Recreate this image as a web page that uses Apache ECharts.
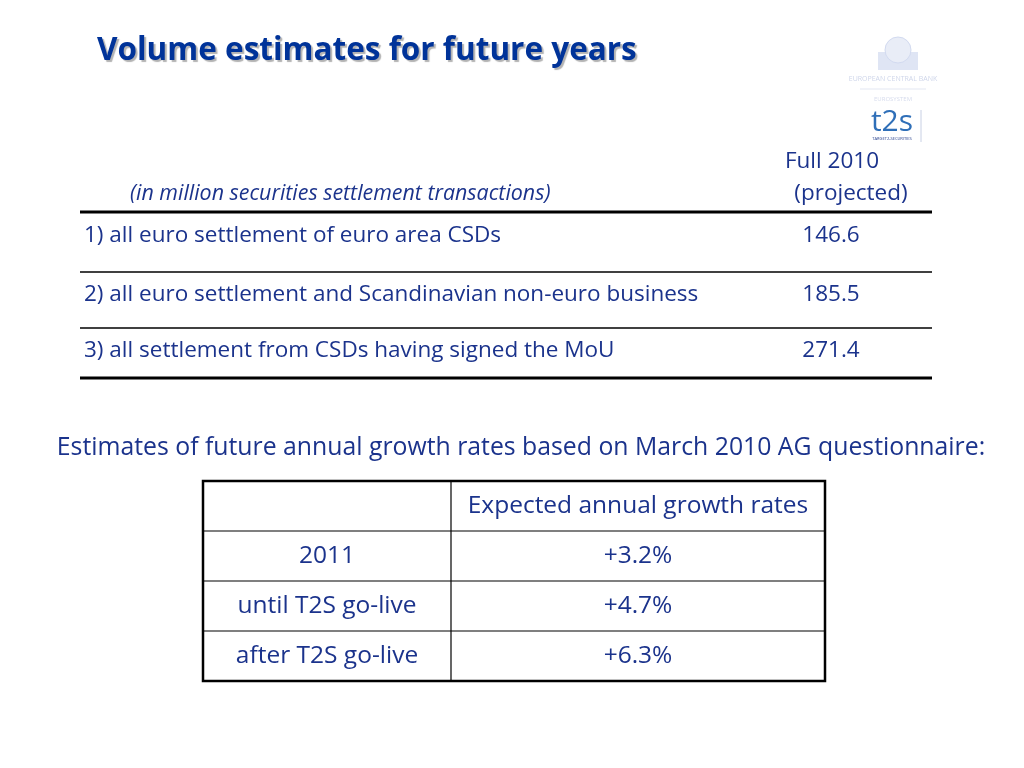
<!DOCTYPE html>
<html>
<head>
<meta charset="utf-8">
<script src="https://cdn.jsdelivr.net/npm/echarts@6/dist/echarts.min.js"></script>
<style>
  html, body { margin: 0; padding: 0; background: #fff; }
  #main { width: 1024px; height: 768px; }
</style>
</head>
<body>
<div id="main"></div>
<script>
// data
var titleText = 'Volume estimates for future years';
var unitNote = '(in million securities settlement transactions)';
var valueHeader = ['Full 2010', '(projected)'];
var volumeRows = [
    '1) all euro settlement of euro area CSDs',
    '2) all euro settlement and Scandinavian non-euro business',
    '3) all settlement from CSDs having signed the MoU'
];
var volumeValues = ['146.6', '185.5', '271.4'];

var growthNote = 'Estimates of future annual growth rates based on March 2010 AG questionnaire:';
var growthHeader = 'Expected annual growth rates';
var growthPeriods = ['2011', 'until T2S go-live', 'after T2S go-live'];
var growthRates = ['+3.2%', '+4.7%', '+6.3%'];

var blue = '#1b338c';
var font = '"Open Sans"';
var f1 = '22.5px ' + font;   // table 1 text
var f2 = '24.5px ' + font;   // growth table text
var chart = echarts.init(document.getElementById('main'));

var els = [];

// title
els.push({
    type: 'text', x: 97, y: 51,
    style: {
        text: titleText, fill: '#003399', font: 'bold 31.5px ' + font, verticalAlign: 'middle',
        textShadowColor: 'rgba(0,0,0,0.3)', textShadowOffsetX: 2, textShadowOffsetY: 2, textShadowBlur: 1
    }
});

// logo (ECB / t2s)
els.push({ type: 'rect', shape: { x: 878, y: 52, width: 40, height: 18 }, style: { fill: '#dfe5f4' } });
els.push({ type: 'circle', shape: { cx: 898, cy: 50, r: 13 }, style: { fill: '#e9edf7', stroke: '#d2daf0', lineWidth: 1 } });
els.push({ type: 'text', x: 893, y: 79, style: { text: 'EUROPEAN CENTRAL BANK', fill: '#cfd6ea', font: '7px ' + font, align: 'center', verticalAlign: 'middle' } });
els.push({ type: 'line', shape: { x1: 860, y1: 89, x2: 926, y2: 89 }, style: { stroke: '#e3e7f2', lineWidth: 1 } });
els.push({ type: 'text', x: 893, y: 99, style: { text: 'EUROSYSTEM', fill: '#d7dced', font: '6px ' + font, align: 'center', verticalAlign: 'middle' } });
els.push({ type: 'text', x: 892, y: 122, style: { text: 't2s', fill: '#2f6fb8', font: '30px ' + font, align: 'center', verticalAlign: 'middle' } });
els.push({ type: 'text', x: 892, y: 139, style: { text: 'TARGET2-SECURITIES', fill: '#1f3a8a', font: '4px ' + font, align: 'center', verticalAlign: 'middle' } });
els.push({ type: 'line', shape: { x1: 921, y1: 110, x2: 921, y2: 142 }, style: { stroke: '#c8d0e4', lineWidth: 1 } });

// table 1
var t1 = { left: 80, right: 932, valX: 831, textX: 84 };
els.push({ type: 'text', x: 832, y: 162, style: { text: valueHeader[0], fill: blue, font: f1, align: 'center', verticalAlign: 'middle' } });
els.push({ type: 'text', x: 851, y: 194, style: { text: valueHeader[1], fill: blue, font: f1, align: 'center', verticalAlign: 'middle' } });
els.push({ type: 'text', x: 130, y: 194, style: { text: unitNote, fill: blue, font: 'italic 21.4px ' + font, verticalAlign: 'middle' } });

var ruleYs = [212, 272, 328, 378];
ruleYs.forEach(function (y, i) {
    var thick = (i === 0 || i === ruleYs.length - 1);
    els.push({ type: 'line', shape: { x1: t1.left, y1: y, x2: t1.right, y2: y }, style: { stroke: '#000', lineWidth: thick ? 3 : 1.3 } });
});
var rowYs = [236, 295, 351];
volumeRows.forEach(function (label, i) {
    els.push({ type: 'text', x: t1.textX, y: rowYs[i], style: { text: label, fill: blue, font: f1, verticalAlign: 'middle' } });
    els.push({ type: 'text', x: t1.valX, y: rowYs[i], style: { text: volumeValues[i], fill: blue, font: f1, align: 'center', verticalAlign: 'middle' } });
});

// growth note
els.push({ type: 'text', x: 521, y: 448, style: { text: growthNote, fill: blue, font: '24.8px ' + font, align: 'center', verticalAlign: 'middle' } });

// table 2
var t2 = { x0: 203, x1: 451, x2: 825, y0: 481, rowH: 50 };
var nRows = growthPeriods.length + 1;
var yEnd = t2.y0 + t2.rowH * nRows;
for (var r = 1; r < nRows; r++) {
    var yy = t2.y0 + t2.rowH * r;
    els.push({ type: 'line', shape: { x1: t2.x0, y1: yy, x2: t2.x2, y2: yy }, style: { stroke: '#000', lineWidth: 1.2 } });
}
els.push({ type: 'line', shape: { x1: t2.x1, y1: t2.y0, x2: t2.x1, y2: yEnd }, style: { stroke: '#000', lineWidth: 1.2 } });
els.push({ type: 'rect', shape: { x: t2.x0, y: t2.y0, width: t2.x2 - t2.x0, height: yEnd - t2.y0 }, style: { fill: 'none', stroke: '#000', lineWidth: 2.5 } });

var c1 = (t2.x0 + t2.x1) / 2, c2 = (t2.x1 + t2.x2) / 2;
els.push({ type: 'text', x: c2, y: t2.y0 + t2.rowH / 2, style: { text: growthHeader, fill: blue, font: f2, align: 'center', verticalAlign: 'middle' } });
growthPeriods.forEach(function (p, i) {
    var cy = t2.y0 + t2.rowH * (i + 1.5);
    els.push({ type: 'text', x: c1, y: cy, style: { text: p, fill: blue, font: f2, align: 'center', verticalAlign: 'middle' } });
    els.push({ type: 'text', x: c2, y: cy, style: { text: growthRates[i], fill: blue, font: f2, align: 'center', verticalAlign: 'middle' } });
});

var option = {
    backgroundColor: '#fff',
    animation: false,
    graphic: { elements: els }
};
chart.setOption(option);
</script>
</body>
</html>
